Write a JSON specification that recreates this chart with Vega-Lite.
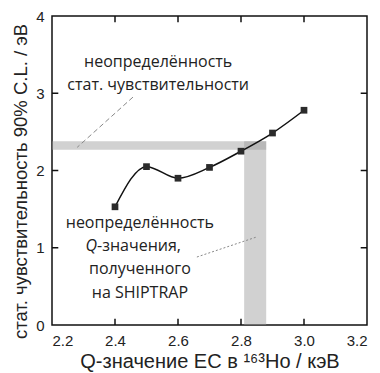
{
  "$schema": "https://vega.github.io/schema/vega-lite/v6.json",
  "width": 315,
  "height": 309,
  "autosize": "none",
  "padding": {"left": 52, "top": 16, "right": 13, "bottom": 48},
  "background": "white",
  "config": {
    "view": {"stroke": "#111", "strokeWidth": 1.5},
    "axis": {"grid": false},
    "text": {"font": "Open Sans", "fontSize": 16, "color": "#222"}
  },
  "datasets": {
    "curve": [
      {"q": 2.4, "s": 1.53},
      {"q": 2.5, "s": 2.05},
      {"q": 2.6, "s": 1.9},
      {"q": 2.7, "s": 2.04},
      {"q": 2.8, "s": 2.25},
      {"q": 2.9, "s": 2.485},
      {"q": 3.0, "s": 2.78}
    ],
    "bands": [
      {"band": "stat", "q1": 2.2, "q2": 2.88, "s1": 2.27, "s2": 2.38},
      {"band": "Q", "q1": 2.81, "q2": 2.88, "s1": 0, "s2": 2.38}
    ],
    "dashed": [
      {"q1": 2.457, "s1": 2.95, "q2": 2.28, "s2": 2.3}
    ],
    "dotted": [
      {"q1": 2.66, "s1": 0.88, "q2": 2.85, "s2": 1.14}
    ],
    "xticks": [{"q": 2.4}, {"q": 2.6}, {"q": 2.8}, {"q": 3.0}],
    "yticks": [{"s": 1}, {"s": 2}, {"s": 3}],
    "labels_c": [
      {"q": 2.537, "s": 3.40, "t": "неопределённость"},
      {"q": 2.537, "s": 3.11, "t": "стат. чувствительности"},
      {"q": 2.479, "s": 1.32, "t": "неопределённость"},
      {"q": 2.479, "s": 0.72, "t": "полученного"},
      {"q": 2.479, "s": 0.42, "t": "на SHIPTRAP"}
    ],
    "labels_q": [
      {"q": 2.343, "s": 1.02, "t": "Q"}
    ],
    "labels_rest": [
      {"q": 2.343, "s": 1.02, "t": "-значения,"}
    ]
  },
  "layer": [
    {
      "data": {"name": "bands"},
      "mark": {"type": "rect", "fill": "#9a9a9a", "opacity": 0.45},
      "encoding": {
        "x": {
          "field": "q1", "type": "quantitative",
          "scale": {"domain": [2.2, 3.2], "nice": false},
          "axis": {
            "orient": "bottom",
            "values": [2.2, 2.4, 2.6, 2.8, 3.0, 3.2],
            "format": ".1f",
            "domain": false,
            "ticks": false,
            "labelPadding": 8,
            "labelFont": "Liberation Sans", "labelFontSize": 15, "labelColor": "#222",
            "title": "Q-значение EC в ¹⁶³Ho / кэВ",
            "titleFont": "Liberation Sans", "titleFontSize": 20, "titleFontWeight": "normal", "titleColor": "#222",
            "titlePadding": 3
          }
        },
        "x2": {"field": "q2"},
        "y": {
          "field": "s1", "type": "quantitative",
          "scale": {"domain": [0, 4], "nice": false},
          "axis": {
            "orient": "left",
            "values": [0, 1, 2, 3, 4],
            "format": "d",
            "domain": false,
            "ticks": false,
            "labelPadding": 8,
            "labelFont": "Liberation Sans", "labelFontSize": 15, "labelColor": "#222",
            "title": "стат. чувствительность 90% C.L. / эВ",
            "titleFont": "Liberation Sans", "titleFontSize": 18.5, "titleFontWeight": "normal", "titleColor": "#222",
            "titleY": 165,
            "titlePadding": 5
          }
        },
        "y2": {"field": "s2"}
      }
    },
    {
      "data": {"name": "xticks"},
      "mark": {"type": "rule", "strokeWidth": 1.5, "color": "#111"},
      "encoding": {
        "x": {"field": "q", "type": "quantitative"},
        "y": {"datum": 0, "type": "quantitative"},
        "y2": {"datum": 0.08}
      }
    },
    {
      "data": {"name": "xticks"},
      "mark": {"type": "rule", "strokeWidth": 1.5, "color": "#111"},
      "encoding": {
        "x": {"field": "q", "type": "quantitative"},
        "y": {"datum": 4, "type": "quantitative"},
        "y2": {"datum": 3.92}
      }
    },
    {
      "data": {"name": "yticks"},
      "mark": {"type": "rule", "strokeWidth": 1.5, "color": "#111"},
      "encoding": {
        "y": {"field": "s", "type": "quantitative"},
        "x": {"datum": 2.2, "type": "quantitative"},
        "x2": {"datum": 2.22}
      }
    },
    {
      "data": {"name": "yticks"},
      "mark": {"type": "rule", "strokeWidth": 1.5, "color": "#111"},
      "encoding": {
        "y": {"field": "s", "type": "quantitative"},
        "x": {"datum": 3.2, "type": "quantitative"},
        "x2": {"datum": 3.18}
      }
    },
    {
      "data": {"name": "dashed"},
      "mark": {"type": "rule", "color": "#888", "strokeWidth": 1, "strokeDash": [5, 3]},
      "encoding": {
        "x": {"field": "q1", "type": "quantitative"},
        "y": {"field": "s1", "type": "quantitative"},
        "x2": {"field": "q2"},
        "y2": {"field": "s2"}
      }
    },
    {
      "data": {"name": "dotted"},
      "mark": {"type": "rule", "color": "#888", "strokeWidth": 1, "strokeDash": [2, 2]},
      "encoding": {
        "x": {"field": "q1", "type": "quantitative"},
        "y": {"field": "s1", "type": "quantitative"},
        "x2": {"field": "q2"},
        "y2": {"field": "s2"}
      }
    },
    {
      "data": {"name": "curve"},
      "mark": {"type": "line", "interpolate": "monotone", "color": "#111", "strokeWidth": 1.5},
      "encoding": {
        "x": {"field": "q", "type": "quantitative"},
        "y": {"field": "s", "type": "quantitative"}
      }
    },
    {
      "data": {"name": "curve"},
      "mark": {"type": "square", "size": 45, "color": "#2b2b2b", "opacity": 1},
      "encoding": {
        "x": {"field": "q", "type": "quantitative"},
        "y": {"field": "s", "type": "quantitative"}
      }
    },
    {
      "data": {"name": "labels_c"},
      "mark": {"type": "text", "align": "center", "baseline": "middle"},
      "encoding": {
        "x": {"field": "q", "type": "quantitative"},
        "y": {"field": "s", "type": "quantitative"},
        "text": {"field": "t"}
      }
    },
    {
      "data": {"name": "labels_q"},
      "mark": {"type": "text", "align": "right", "baseline": "middle", "fontStyle": "italic"},
      "encoding": {
        "x": {"field": "q", "type": "quantitative"},
        "y": {"field": "s", "type": "quantitative"},
        "text": {"field": "t"}
      }
    },
    {
      "data": {"name": "labels_rest"},
      "mark": {"type": "text", "align": "left", "baseline": "middle"},
      "encoding": {
        "x": {"field": "q", "type": "quantitative"},
        "y": {"field": "s", "type": "quantitative"},
        "text": {"field": "t"}
      }
    }
  ]
}
